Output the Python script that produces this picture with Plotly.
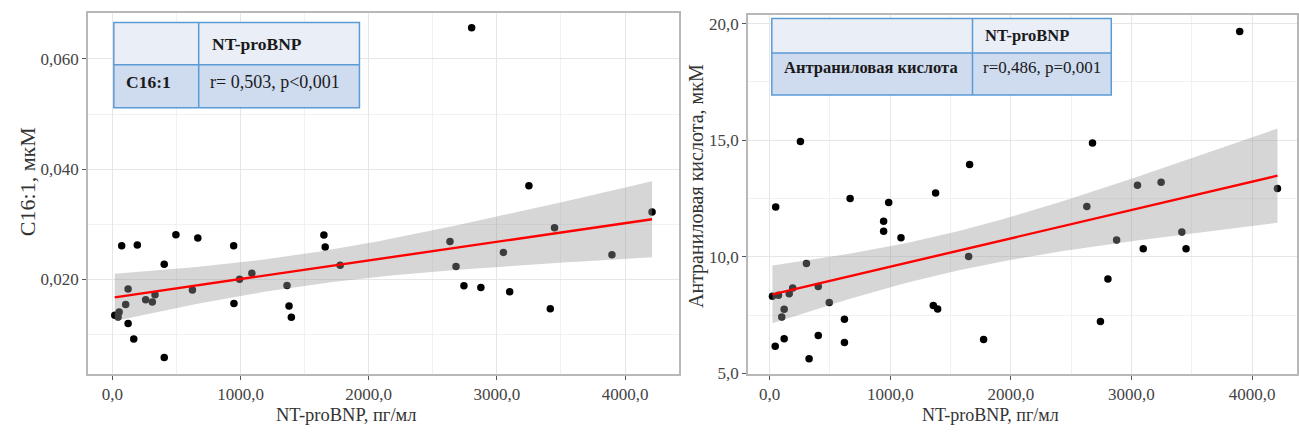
import numpy as np
import plotly.graph_objects as go

W, H = 1299, 437
FONT = "Liberation Serif"

# ---------------- data ----------------
ntprobnp_left = [18, 52, 44, 72, 122, 103, 122, 166, 194, 259, 311, 332, 404, 404,
                 495, 624, 666, 946, 948, 992, 1088, 1362, 1378, 1396, 1650, 1660,
                 1777, 2634, 2681, 2743, 2875, 3250, 3450, 3051, 3898, 4211, 3100,
                 3417, 2803]
c16_1 = [0.01345, 0.01405, 0.01316, 0.02607, 0.01821, 0.01541, 0.01196, 0.00916,
         0.0262, 0.0163, 0.01589, 0.0172, 0.02273, 0.00577, 0.02809, 0.01804,
         0.0275, 0.02607, 0.01559, 0.0200, 0.02107, 0.01888, 0.01512, 0.01309,
         0.02804, 0.02584, 0.02255, 0.02684, 0.02232, 0.01884, 0.01852, 0.03696,
         0.02934, 0.02488, 0.02446, 0.0322, 0.01773, 0.01464, 0.06566]

ntprobnp_right = [255, 50, 667, 987, 945, 945, 1089, 1376, 305, 23, 73, 162, 191,
                  403, 494, 120, 100, 620, 1357, 1393, 403, 120, 620, 46, 327,
                  1658, 2677, 2630, 3050, 1650, 2877, 3098, 2805, 2743, 1774,
                  3898, 3246, 4211, 3418, 3453]
anthranilic = [14.94, 12.14, 12.50, 12.33, 11.52, 11.10, 10.82, 12.74, 9.71, 8.31,
               8.35, 8.42, 8.66, 8.73, 8.04, 7.75, 7.42, 7.32, 7.91, 7.76, 6.63,
               6.49, 6.33, 6.16, 5.63, 13.96, 14.88, 12.16, 13.07, 10.01, 10.72,
               10.35, 9.05, 7.23, 6.45, 19.66, 13.20, 12.93, 11.06, 10.35]

x_tickvals = [0, 1000, 2000, 3000, 4000]
x_ticktext = ["0,0", "1000,0", "2000,0", "3000,0", "4000,0"]
yl_tickvals = [0.020, 0.040, 0.060]
yl_ticktext = ["0,020", "0,040", "0,060"]
yr_tickvals = [5, 10, 15, 20]
yr_ticktext = ["5,0", "10,0", "15,0", "20,0"]

x_title = "NT-proBNP, пг/мл"
yl_title = "C16:1, мкМ"
yr_title = "Антраниловая кислота, мкМ"

table_left = {"header": "NT-proBNP", "row": "C16:1", "value": "r= 0,503, p<0,001"}
table_right = {"header": "NT-proBNP", "row": "Антраниловая кислота",
               "value": "r=0,486, p=0,001"}

T_CRIT = 2.025  # t(0.975, df~38) for the 95% confidence band


def lm_band(x, y, n_pts=80):
    x = np.asarray(x, float)
    y = np.asarray(y, float)
    n = len(x)
    b, a = np.polyfit(x, y, 1)
    resid = y - (a + b * x)
    s = np.sqrt(np.sum(resid ** 2) / (n - 2))
    xm = x.mean()
    sxx = np.sum((x - xm) ** 2)
    xs = np.linspace(x.min(), x.max(), n_pts)
    yh = a + b * xs
    se = s * np.sqrt(1.0 / n + (xs - xm) ** 2 / sxx)
    return xs, yh, yh - T_CRIT * se, yh + T_CRIT * se


def px(xp):
    return xp / W


def py(yp):
    return 1 - yp / H


fig = go.Figure()

panels = [
    ("x", "y", ntprobnp_left, c16_1),
    ("x2", "y2", ntprobnp_right, anthranilic),
]
for xa, ya, xv, yv in panels:
    fig.add_trace(go.Scatter(x=xv, y=yv, mode="markers", xaxis=xa, yaxis=ya,
                             marker=dict(color="black", size=7.5, line=dict(width=0)),
                             showlegend=False, hoverinfo="skip"))
    xs, yh, lo, hi = lm_band(xv, yv)
    fig.add_trace(go.Scatter(x=xs, y=hi, mode="lines", xaxis=xa, yaxis=ya,
                             line=dict(width=0), showlegend=False, hoverinfo="skip"))
    fig.add_trace(go.Scatter(x=xs, y=lo, mode="lines", xaxis=xa, yaxis=ya,
                             line=dict(width=0), fill="tonexty",
                             fillcolor="rgba(153,153,153,0.4)",
                             showlegend=False, hoverinfo="skip"))
    fig.add_trace(go.Scatter(x=xs, y=yh, mode="lines", xaxis=xa, yaxis=ya,
                             line=dict(color="#ff0000", width=2.4),
                             showlegend=False, hoverinfo="skip"))

axis_common = dict(
    showline=True, mirror=True, linecolor="#b8b8b8", linewidth=1.6,
    ticks="outside", ticklen=4, tickwidth=1, tickcolor="#555555",
    showgrid=True, gridcolor="#e6e6e6", gridwidth=1,
    zeroline=False, tickfont=dict(family=FONT, size=17, color="#444444"),
)

fig.update_layout(
    width=W, height=H,
    margin=dict(l=0, r=0, t=0, b=0),
    paper_bgcolor="white", plot_bgcolor="white",
    font=dict(family=FONT),
    xaxis=dict(domain=[px(88), px(680)], range=[-192, 4421], anchor="y",
               tickvals=x_tickvals, ticktext=x_ticktext,
               minor=dict(dtick=500, tick0=500, showgrid=True, gridcolor="#f1f1f1",
                          ticks=""),
               **axis_common),
    yaxis=dict(domain=[py(382), py(13)], range=[0.00277, 0.0684], anchor="x",
               tickvals=yl_tickvals, ticktext=yl_ticktext,
               minor=dict(dtick=0.010, tick0=0.010, showgrid=True, gridcolor="#f1f1f1",
                          ticks=""),
               **axis_common),
    xaxis2=dict(domain=[px(749), 1.0], range=[-181, 4373], anchor="y2",
                tickvals=x_tickvals, ticktext=x_ticktext,
                minor=dict(dtick=500, tick0=500, showgrid=True, gridcolor="#f1f1f1",
                           ticks=""),
                **axis_common),
    yaxis2=dict(domain=[py(382), py(15)], range=[4.97, 20.38], anchor="x2",
                tickvals=yr_tickvals, ticktext=yr_ticktext,
                minor=dict(dtick=2.5, tick0=2.5, showgrid=True, gridcolor="#f1f1f1",
                           ticks=""),
                **axis_common),
)

shapes = []
annotations = []


def note(text, x, y, size, xanchor="center", angle=0, color="#333333"):
    annotations.append(dict(text=text, x=px(x), y=py(y), xref="paper", yref="paper",
                            xanchor=xanchor, yanchor="middle", showarrow=False,
                            textangle=angle,
                            font=dict(family=FONT, size=size, color=color)))


# axis titles
note(x_title, 347, 424, 18.5)
note(x_title, 992, 424, 18)
note(yl_title, 27, 185, 22, angle=-90)
note(yr_title, 697, 190, 20, angle=-90)


def add_table(x0, x1, xm, y0, y1, ym, tab, size_hdr, size_row, size_val, row_text_y):
    border = "#5b9bd5"
    shapes.append(dict(type="rect", xref="paper", yref="paper",
                       x0=px(x0), x1=px(x1), y0=py(ym), y1=py(y0),
                       fillcolor="#e9eef7", line=dict(width=0), layer="above"))
    shapes.append(dict(type="rect", xref="paper", yref="paper",
                       x0=px(x0), x1=px(x1), y0=py(y1), y1=py(ym),
                       fillcolor="#cfdbef", line=dict(width=0), layer="above"))
    shapes.append(dict(type="rect", xref="paper", yref="paper",
                       x0=px(x0), x1=px(x1), y0=py(y1), y1=py(y0),
                       line=dict(color=border, width=1.5), layer="above"))
    shapes.append(dict(type="line", xref="paper", yref="paper",
                       x0=px(xm), x1=px(xm), y0=py(y1), y1=py(y0),
                       line=dict(color=border, width=1.5), layer="above"))
    shapes.append(dict(type="line", xref="paper", yref="paper",
                       x0=px(x0), x1=px(x1), y0=py(ym), y1=py(ym),
                       line=dict(color=border, width=1.5), layer="above"))
    hdr_y = (y0 + ym) / 2
    note("<b>" + tab["header"] + "</b>", xm + 11, hdr_y, size_hdr, "left", color="#1a1a1a")
    note("<b>" + tab["row"] + "</b>", x0 + 10, row_text_y, size_row, "left", color="#1a1a1a")
    note(tab["value"], xm + 9, row_text_y, size_val, "left", color="#1a1a1a")


add_table(114, 360, 199, 23, 110, 66, table_left, 17.5, 17.5, 18, 84)
add_table(773, 1113, 974, 19, 97, 54, table_right, 16.5, 16.5, 17, 69)

fig.update_layout(shapes=shapes, annotations=annotations)

fig.write_html("out.html")
